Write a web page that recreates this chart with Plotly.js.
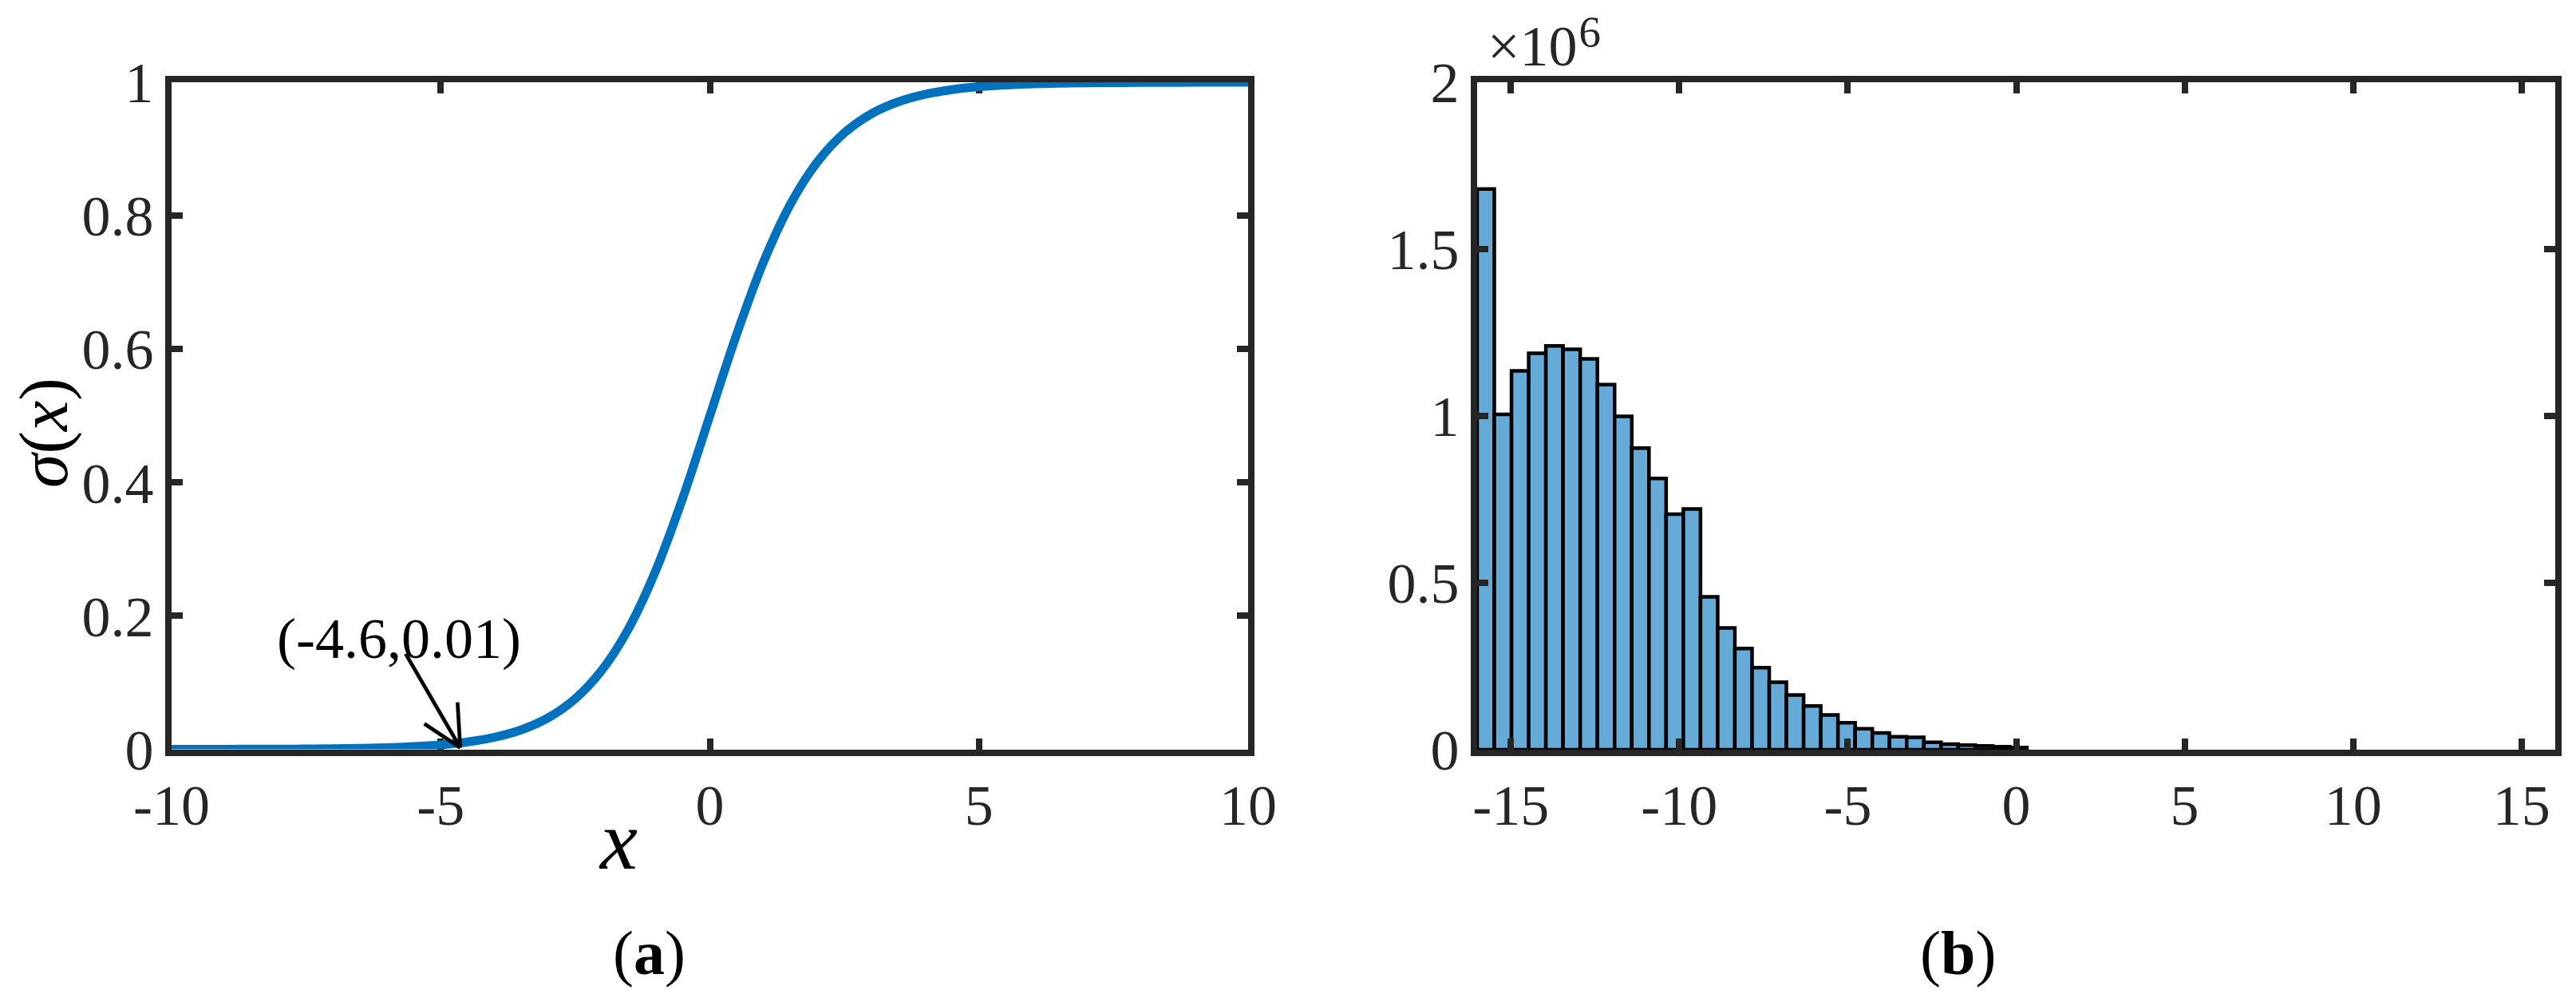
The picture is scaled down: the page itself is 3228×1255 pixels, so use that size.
<!DOCTYPE html>
<html>
<head>
<meta charset="utf-8">
<script src="https://cdn.plot.ly/plotly-3.0.1.min.js"></script>
<style>
  html, body { margin: 0; padding: 0; background: #ffffff; }
  #chart { width: 3228px; height: 1255px; }
</style>
</head>
<body>
<div id="chart"></div>
<script>
// ---- Panel (a): sigmoid curve ----
const sigX = [-10, -9.5, -9, -8.5, -8, -7.5, -7, -6.5, -6, -5.5, -5, -4.5, -4, -3.5, -3, -2.5, -2, -1.5, -1, -0.5,
              0, 0.5, 1, 1.5, 2, 2.5, 3, 3.5, 4, 4.5, 5, 5.5, 6, 6.5, 7, 7.5, 8, 8.5, 9, 9.5, 10];
const sigY = [0.0000, 0.0001, 0.0001, 0.0002, 0.0003, 0.0006, 0.0009, 0.0015, 0.0025, 0.0041, 0.0067, 0.0110, 0.0180,
              0.0293, 0.0474, 0.0759, 0.1192, 0.1824, 0.2689, 0.3775, 0.5000, 0.6225, 0.7311, 0.8176, 0.8808, 0.9241,
              0.9526, 0.9707, 0.9820, 0.9890, 0.9933, 0.9959, 0.9975, 0.9985, 0.9991, 0.9994, 0.9997, 0.9998, 0.9999,
              0.9999, 1.0000];
const markX = -4.6;
const markY = 0.01;
const markLabel = '(-4.6,0.01)';
const aTickVals = [-10, -5, 0, 5, 10];
const aTickText = ['-10', '-5', '0', '5', '10'];
const aYTickVals = [0, 0.2, 0.4, 0.6, 0.8, 1];
const aYTickText = ['0', '0.2', '0.4', '0.6', '0.8', '1'];

// ---- Panel (b): histogram, bin definition + counts ----
const binStart = -16;
const binWidth = 0.51;
const histCounts = [1680000, 1005000, 1135000, 1188000, 1210000, 1200000, 1171000, 1094000, 999000, 904000,
                    813000, 706000, 721000, 458000, 365000, 303000, 246000, 202000, 164000, 131000,
                    104000, 81000, 63000, 50000, 39000, 37000, 22000, 16500, 14000, 11400, 9000, 6600];
const bTickVals = [-15, -10, -5, 0, 5, 10, 15];
const bTickText = ['-15', '-10', '-5', '0', '5', '10', '15'];
const bYTickVals = [0, 500000, 1000000, 1500000, 2000000];
const bYTickText = ['0', '0.5', '1', '1.5', '2'];
const bExponentLabel = '×10<span style="font-size:92px">⁶</span>';

const binCenters = histCounts.map((_, i) => binStart + binWidth * (i + 0.5));

const W = 3228, H = 1255;
const px = v => v / W;
const py = v => 1 - v / H;

const axisColor = '#262626';
const serif = 'Liberation Serif, Times New Roman, serif';
const tickFont = { family: serif, size: 72, color: axisColor };

function axisStyle(extra) {
  return Object.assign({
    showline: true, linewidth: 8, linecolor: axisColor, mirror: 'ticks',
    ticks: 'inside', ticklen: 14, tickwidth: 8, tickcolor: axisColor,
    showgrid: false, zeroline: false, tickfont: tickFont, tickmode: 'array',
    fixedrange: true
  }, extra);
}

const traces = [
  {
    type: 'scatter', mode: 'lines', x: sigX, y: sigY, xaxis: 'x', yaxis: 'y',
    line: { color: '#0072BD', width: 11, shape: 'spline', smoothing: 1 },
    hoverinfo: 'skip', showlegend: false
  },
  {
    type: 'bar', x: binCenters, y: histCounts, width: binWidth, xaxis: 'x2', yaxis: 'y2',
    marker: { color: 'rgb(102,170,215)', line: { color: '#000000', width: 4.5 } },
    hoverinfo: 'skip', showlegend: false
  }
];

function lbl(size) { return { family: serif, size: size, color: '#000000' }; }

// open arrow pointing at (markX, markY): shaft + two barbs, offsets in pixels from the marked point
function arrowSeg(dx0, dy0, dx1, dy1) {
  return {
    type: 'line', xref: 'x', yref: 'y', xsizemode: 'pixel', ysizemode: 'pixel',
    xanchor: markX, yanchor: markY, x0: dx0, y0: dy0, x1: dx1, y1: dy1,
    line: { color: '#000000', width: 4.7 }, layer: 'above'
  };
}
const tip = [-2.5, -6.4];

const layout = {
  width: W, height: H,
  margin: { l: 0, r: 0, t: 0, b: 0, pad: 0 },
  paper_bgcolor: '#ffffff', plot_bgcolor: '#ffffff',
  showlegend: false, bargap: 0,
  font: { family: serif, color: axisColor },
  xaxis: axisStyle({ domain: [px(215), px(1564)], range: [-10, 10], anchor: 'y',
                     tickvals: aTickVals, ticktext: aTickText, layer: 'below traces' }),
  yaxis: axisStyle({ domain: [py(938.5), py(103)], range: [0, 1], anchor: 'x',
                     tickvals: aYTickVals, ticktext: aYTickText, layer: 'below traces' }),
  xaxis2: axisStyle({ domain: [px(1851), px(3202)], range: [-16, 16], anchor: 'y2',
                      tickvals: bTickVals, ticktext: bTickText }),
  yaxis2: axisStyle({ domain: [py(939), py(103)], range: [0, 2000000], anchor: 'x2',
                      tickvals: bYTickVals, ticktext: bYTickText }),
  shapes: [
    arrowSeg(tip[0], tip[1], -70.9, 111.3),
    arrowSeg(tip[0], tip[1], -47.5, 23.6),
    arrowSeg(tip[0], tip[1], -5.9, 50.6)
  ],
  annotations: [
    { xref: 'paper', yref: 'paper', x: px(55), y: py(542), xanchor: 'center', yanchor: 'middle',
      text: '<i>σ</i>(<i>x</i>)', textangle: -90, showarrow: false, font: lbl(86) },
    { xref: 'paper', yref: 'paper', x: px(774), y: py(1052), xanchor: 'center', yanchor: 'middle',
      text: '<i>x</i>', showarrow: false, font: lbl(106) },
    { xref: 'paper', yref: 'paper', x: px(813), y: py(1193), xanchor: 'center', yanchor: 'middle',
      text: '(<b>a</b>)', showarrow: false, font: lbl(78) },
    { xref: 'paper', yref: 'paper', x: px(2453), y: py(1193), xanchor: 'center', yanchor: 'middle',
      text: '(<b>b</b>)', showarrow: false, font: lbl(78) },
    { xref: 'paper', yref: 'paper', x: px(1862), y: py(104), xanchor: 'left', yanchor: 'bottom',
      text: bExponentLabel, showarrow: false, font: { family: serif, size: 72, color: axisColor } },
    { xref: 'x', yref: 'y', x: markX, y: markY, xshift: -79.7, yshift: 130, xanchor: 'center', yanchor: 'middle',
      text: markLabel, showarrow: false, font: lbl(72) }
  ]
};

Plotly.newPlot('chart', traces, layout, { displayModeBar: false, staticPlot: true });
</script>
</body>
</html>
